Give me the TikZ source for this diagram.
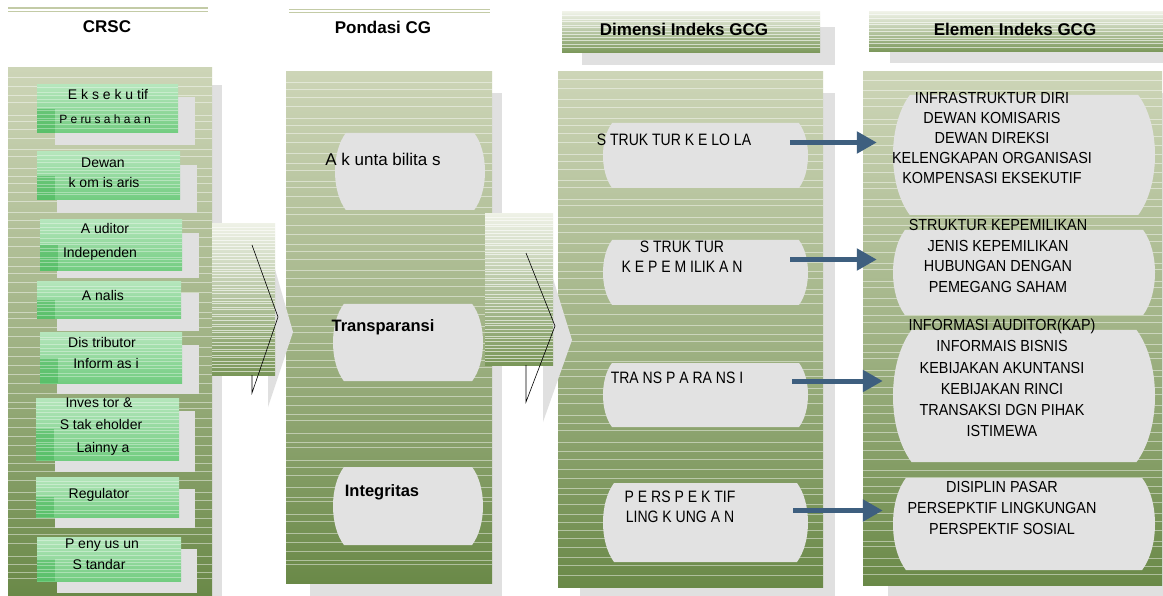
\documentclass[tikz,border=0pt]{standalone}
\usepackage{fontspec}
\setmainfont{Liberation Sans}
\newfontfamily\condA[FakeStretch=0.85]{Liberation Sans}
\newfontfamily\condB[FakeStretch=0.9]{Liberation Sans}
\usetikzlibrary{arrows.meta,calc}

\definecolor{olivetop}{HTML}{CDD5B7}
\definecolor{olivemid}{HTML}{A2B487}
\definecolor{olivebot}{HTML}{6A8948}
\definecolor{shadowgray}{HTML}{E0E0E0}
\definecolor{ovalgray}{HTML}{E2E2E2}
\definecolor{arrowblue}{HTML}{3E5F7F}
\definecolor{greentop}{HTML}{B5E6BC}
\definecolor{greenbot}{HTML}{72CC80}
\definecolor{greendark}{HTML}{45B657}
\definecolor{hdrline}{HTML}{C3CBA6}
\definecolor{bandtop}{HTML}{EEF1E6}
\definecolor{bandbot}{HTML}{7A9759}

\newcommand\stripes[6]{%
  \pgfmathtruncatemacro\nst{(#4-#2)/#5-1}%
  \foreach \k in {1,...,\nst}{%
    \pgfmathsetmacro\yy{#2+\k*#5+(rnd-0.5)*#5*0.5}%
    \draw[white,opacity=#6,line width=0.7pt] (#1,\yy) -- (#3,\yy);
  }}

\newcommand\panelbox[4]{%
  \shade[top color=olivetop,bottom color=olivebot,middle color=olivemid] (#1,#2) rectangle (#3,#4);
  \stripes{#1}{#2}{#3}{#4}{9}{0.45}}

\newcommand\bandbox[4]{%
  \shade[top color=bandtop,bottom color=bandbot] (#1,#2) rectangle (#3,#4);
  \stripes{#1}{#2}{#3}{#4}{3.2}{0.6}}

\newcommand\greenbox[8]{%
  \fill[shadowgray] (#5,#6) rectangle (#7,#8);
  \shade[top color=greentop,bottom color=greenbot] (#1,#2) rectangle (#3,#4);
  \fill[greendark,opacity=0.55] (#1,{(#2+#4)/2}) rectangle ({#1+18},#4);
  \stripes{#1}{#2}{#3}{#4}{3.6}{0.35}}

\newcommand\barrel[5]{%
  \pgfmathsetmacro\bh{#5-#3}%
  \pgfmathsetmacro\bd{0.14*\bh}%
  \fill[ovalgray] ({#2+\bd},#3) -- ({#4-\bd},#3)
    .. controls ({#4+\bd/3},{#3+0.25*\bh}) and ({#4+\bd/3},{#5-0.25*\bh}) .. ({#4-\bd},#5)
    -- ({#2+\bd},#5)
    .. controls ({#2-\bd/3},{#5-0.25*\bh}) and ({#2-\bd/3},{#3+0.25*\bh}) .. ({#2+\bd},#3) -- cycle;
  \node[inner sep=0pt,minimum width={(#4-#2)*1pt},minimum height={(#5-#3)*1pt}] (#1) at ({(#2+#4)/2},{(#3+#5)/2}) {};
}

\tikzset{
  crsc/.style={font=\fontsize{14}{17}\selectfont, anchor=base, yshift=-5pt, inner sep=0pt},
  crscs/.style={font=\fontsize{12}{14}\selectfont, anchor=base, yshift=-4.3pt, inner sep=0pt},
  hdr/.style={font=\bfseries\fontsize{17}{19}\selectfont, anchor=base, yshift=-6pt, inner sep=0pt},
  pond/.style={font=\fontsize{17}{20}\selectfont, anchor=base, yshift=-6pt, inner sep=0pt},
  pondb/.style={font=\bfseries\fontsize{16.5}{20}\selectfont, anchor=base, yshift=-6pt, inner sep=0pt},
  dim/.style={font=\condA\fontsize{16.5}{20}\selectfont, align=center, inner sep=0pt},
  elem/.style={font=\condB\fontsize{16}{#1}\selectfont, align=center, inner sep=0pt},
  elem/.default=20,
  flow/.style={draw=arrowblue, line width=5pt, -{Triangle[length=20pt,width=21pt]}},
  vline/.style={draw=black, line width=0.6pt},
}

\begin{document}
\begin{tikzpicture}[x=1pt,y=-1pt]
\useasboundingbox (0,0) rectangle (1163,596);
\fill[white] (0,0) rectangle (1163,596);
\pgfmathsetseed{11}

% ---------- shadows of the panels
\fill[shadowgray] (20,85) rectangle (222,596);
\fill[shadowgray] (310,93) rectangle (502,596);
\fill[shadowgray] (580,93) rectangle (835,596);
\fill[shadowgray] (888,93) rectangle (1163,596);

% ---------- headers
\draw[hdrline,line width=1.3pt] (8,8) -- (208,8);
\draw[hdrline,line width=1.3pt] (8,11.5) -- (208,11.5);
\draw[hdrline,line width=1.3pt] (289,9.5) -- (490,9.5);
\draw[hdrline,line width=1.3pt] (289,12.5) -- (490,12.5);
\fill[shadowgray] (582,27) rectangle (835,65);
\bandbox{562}{12}{820}{53}
\fill[shadowgray] (890,22) rectangle (1163,63);
\bandbox{869}{12}{1163}{52}

\node[hdr] (h1) at (107,27) {CRSC};
\node[hdr] (h2) at (383,28) {Pondasi CG};
\node[hdr] (h3) at (684,30) {Dimensi Indeks GCG};
\node[hdr] (h4) at (1015,30) {Elemen Indeks GCG};

% ---------- panels
\panelbox{8}{68}{212}{595}
\panelbox{286}{72}{492}{583}
\panelbox{558}{72}{823}{587}
\panelbox{863}{72}{1162}{585}

% ---------- chevron 1
\fill[shadowgray] (262,224) -- (293,332) -- (268,407) -- (268,224) -- cycle;
\bandbox{212}{224}{275}{375}
\coordinate (v1a) at (252,245);
\coordinate (v1b) at (278,317);
\coordinate (v1c) at (252,393);
\coordinate (v1d) at (252,375);
\draw[vline] (v1a) -- (v1b) -- (v1c) -- (v1d);

% ---------- chevron 2
\fill[shadowgray] (533,214) -- (572,340) -- (543,422) -- (543,214) -- cycle;
\bandbox{485}{214}{553}{365}
\coordinate (v2a) at (526,253);
\coordinate (v2b) at (555,326);
\coordinate (v2c) at (526,402);
\coordinate (v2d) at (526,365);
\draw[vline] (v2a) -- (v2b) -- (v2c) -- (v2d);

% ---------- CRSC boxes
\greenbox{37}{85}{178}{133}{55}{97}{195}{145}
\greenbox{37}{152}{180}{200}{57}{165}{197}{213}
\greenbox{40}{220}{182}{271}{57}{233}{199}{278}
\greenbox{37}{282}{181}{319}{57}{293}{199}{331}
\greenbox{40}{333}{182}{383}{57}{345}{199}{394}
\greenbox{36}{398}{179}{460}{55}{411}{195}{472}
\greenbox{36}{477}{179}{517}{55}{489}{195}{528}
\greenbox{37}{537}{181}{581}{57}{549}{197}{593}

\node[crsc]  (c1a) at (108,95) {E k s e k u tif};
\node[crscs] (c1b) at (105,119) {P e ru s a h a a n};
\node[crsc]  (c2a) at (103,163) {Dewan};
\node[crsc]  (c2b) at (104,183) {k om is aris};
\node[crsc]  (c3a) at (105,229) {A uditor};
\node[crsc]  (c3b) at (100,253) {Independen};
\node[crsc]  (c4)  at (103,296) {A nalis};
\node[crsc]  (c5a) at (102,343) {Dis tributor};
\node[crsc]  (c5b) at (106,363) {Inform as i};
\node[crsc]  (c6a) at (99,402) {Inves tor \&};
\node[crsc]  (c6b) at (101,424) {S tak eholder};
\node[crsc]  (c6c) at (103,447) {Lainny a};
\node[crsc]  (c7)  at (99,493) {Regulator};
\node[crsc]  (c8a) at (102,543) {P eny us un};
\node[crsc]  (c8b) at (99,564) {S tandar};

% ---------- Pondasi CG
\barrel{p1}{335}{133}{485}{210}
\barrel{p2}{333}{304}{483}{381}
\barrel{p3}{333}{467}{483}{545}
\node[pond]  (p1t) at (383,160) {A k unta bilita s};
\node[pondb] (p2t) at (383,326) {Transparansi};
\node[pondb] (p3t) at (382,490) {Integritas};

% ---------- Dimensi
\barrel{d1}{603}{123}{808}{188}
\barrel{d2}{603}{240}{808}{305}
\barrel{d3}{603}{363}{808}{427}
\barrel{d4}{603}{483}{808}{562}
\node[dim] (d1t) at (674,140) {S TRUK TUR K E LO LA};
\node[dim] (d2t) at (682,257) {S TRUK TUR\\K E P E M ILIK A N};
\node[dim] (d3t) at (677,378) {TRA NS P A RA NS I};
\node[dim] (d4t) at (680,507) {P E RS P E K TIF\\LING K UNG A N};

% ---------- Elemen
\barrel{e1}{893}{95}{1155}{215}
\barrel{e2}{893}{230}{1155}{315}
\barrel{e3}{893}{330}{1155}{462}
\barrel{e4}{893}{478}{1155}{570}
\node[elem=20] (e1t) at (992,138) {INFRASTRUKTUR DIRI\\DEWAN KOMISARIS\\DEWAN DIREKSI\\KELENGKAPAN ORGANISASI\\KOMPENSASI EKSEKUTIF};
\node[elem=20.7] (e2t) at (998,256) {STRUKTUR KEPEMILIKAN\\JENIS KEPEMILIKAN\\HUBUNGAN DENGAN\\PEMEGANG SAHAM};
\node[elem=21.2] (e3t) at (1002,378) {INFORMASI AUDITOR(KAP)\\INFORMAIS BISNIS\\KEBIJAKAN AKUNTANSI\\KEBIJAKAN RINCI\\TRANSAKSI DGN PIHAK\\ISTIMEWA};
\node[elem=21] (e4t) at (1002,508) {DISIPLIN PASAR\\PERSEPKTIF LINGKUNGAN\\PERSPEKTIF SOSIAL};

% ---------- arrows
\draw[flow] ($(d1.east)+(-18,-13)$) -- ($(d1.east -| e1.west)+(-16,-13)$);
\draw[flow] ($(d2.east)+(-18,-13)$) -- ($(d2.east -| e2.west)+(-16,-13)$);
\draw[flow] ($(d3.east)+(-16,-14)$) -- ($(d3.east -| e3.west)+(-10,-14)$);
\draw[flow] ($(d4.east)+(-15,-12)$) -- ($(d4.east -| e4.west)+(-10,-12)$);
\end{tikzpicture}
\end{document}
